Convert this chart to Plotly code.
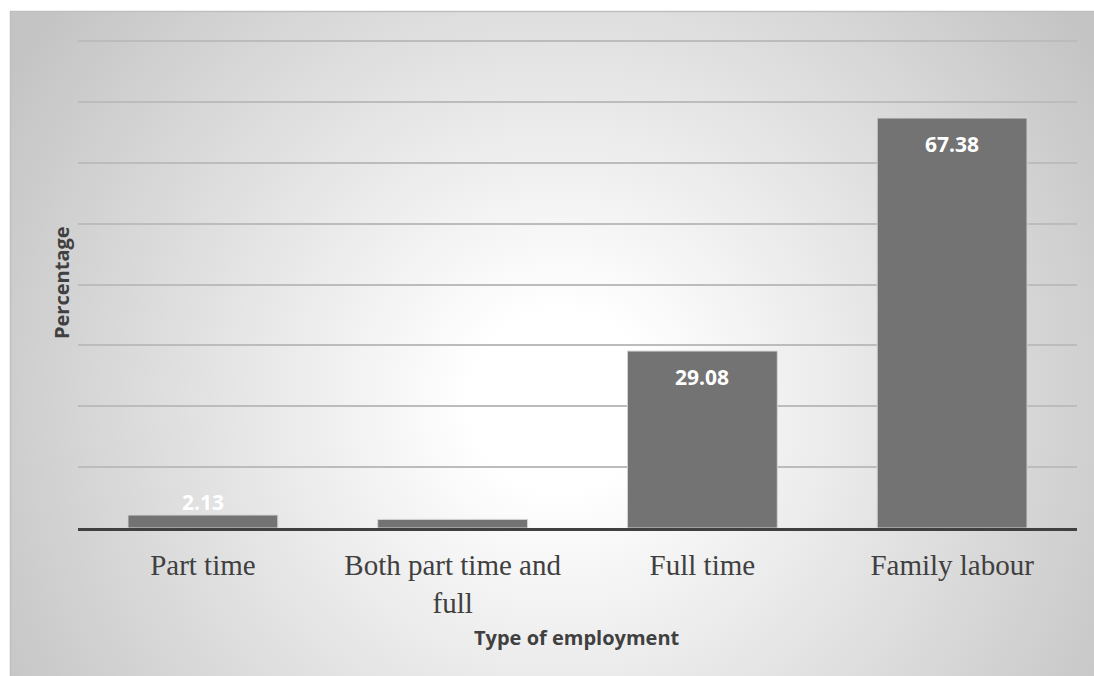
import base64
import plotly.graph_objects as go

categories = ["Part time", "Both part time and<br>full", "Full time", "Family labour"]
values = [2.13, 1.41, 29.08, 67.38]
labels = ["2.13", "", "29.08", "67.38"]

W, H = 1094, 676
L, R, T, B = 78, 17, 40, 148
YMAX = 80.2
pw, ph = W - L - R, H - T - B

def px_x(px):
    return (px - L) / pw

def px_y(py):
    return (H - B - py) / ph

svg = (
    '<svg xmlns="http://www.w3.org/2000/svg" width="1084" height="665" viewBox="0 0 1084 665" preserveAspectRatio="none">'
    '<defs><radialGradient id="g" gradientUnits="userSpaceOnUse" cx="550" cy="390" r="640">'
    '<stop offset="0" stop-color="#ffffff"/><stop offset="0.14" stop-color="#ffffff"/>'
    '<stop offset="1" stop-color="#c4c4c4"/></radialGradient></defs>'
    '<rect x="0" y="0" width="1084" height="665" fill="url(#g)"/></svg>'
)
src = "data:image/svg+xml;base64," + base64.b64encode(svg.encode()).decode()

fig = go.Figure()
fig.add_trace(go.Bar(
    x=categories, y=values,
    marker=dict(color="#737373", line=dict(color="#d4d4d4", width=1)),
    width=0.6, hoverinfo="skip",
))

annotations = []
for c, v, lab in zip(categories, values, labels):
    if not lab:
        continue
    inside = v > 10
    annotations.append(dict(
        x=c, y=v, xref="x", yref="y", text="<b>%s</b>" % lab, showarrow=False,
        yanchor="middle", yshift=-26 if inside else 13,
        font=dict(family="Open Sans", size=21, color="#ffffff"),
    ))
annotations.append(dict(
    x=px_x(577), y=px_y(637), xref="paper", yref="paper", text="<b>Type of employment</b>",
    showarrow=False, xanchor="center", yanchor="middle",
    font=dict(family="Open Sans", size=20, color="#404040"),
))
annotations.append(dict(
    x=px_x(61), y=px_y(283), xref="paper", yref="paper", text="<b>Percentage</b>",
    showarrow=False, xanchor="center", yanchor="middle", textangle=-90,
    font=dict(family="Open Sans", size=20, color="#404040"),
))

fig.update_layout(
    width=W, height=H,
    margin=dict(l=L, r=R, t=T, b=B),
    paper_bgcolor="#ffffff", plot_bgcolor="rgba(0,0,0,0)",
    showlegend=False,
    annotations=annotations,
    images=[dict(
        source=src, xref="paper", yref="paper",
        x=px_x(10), y=px_y(11), sizex=(W - 10) / pw, sizey=(H - 11) / ph,
        xanchor="left", yanchor="top", sizing="stretch", layer="below",
    )],
    shapes=[dict(
        type="rect", xref="paper", yref="paper",
        x0=px_x(10.5), x1=px_x(W + 5), y0=px_y(H + 5), y1=px_y(11.5),
        line=dict(color="#bfbfbf", width=1.5), fillcolor="rgba(0,0,0,0)", layer="above",
    )],
    xaxis=dict(
        showline=True, linecolor="#404040", linewidth=3, showgrid=False,
        ticks="", ticklabelstandoff=9,
        tickfont=dict(family="Liberation Serif", size=29, color="#404040"),
        fixedrange=True,
    ),
    yaxis=dict(
        range=[0, YMAX], dtick=10, showticklabels=False, ticks="",
        showgrid=True, gridcolor="#bcbcbc", gridwidth=1.5, zeroline=False,
        fixedrange=True,
    ),
)

fig.write_html("out.html", config=dict(displayModeBar=False))
